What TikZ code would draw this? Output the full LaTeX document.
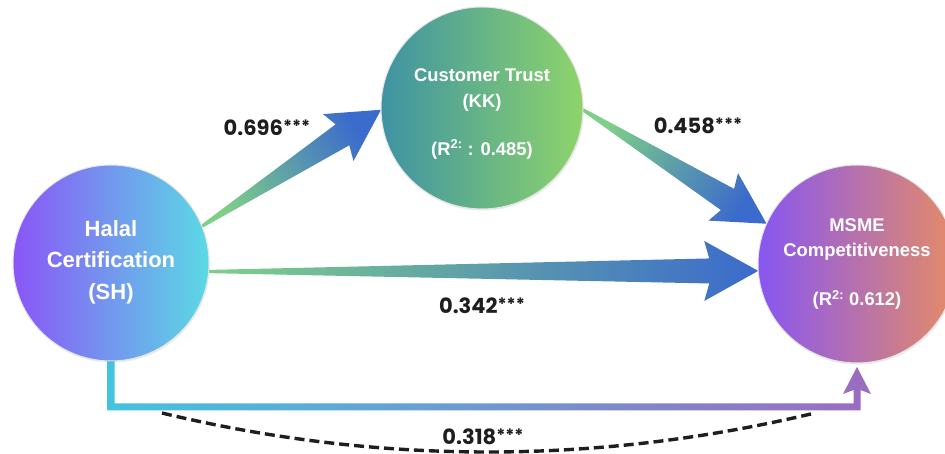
\documentclass[tikz,border=0pt]{standalone}
\usepackage{fontspec}
\setsansfont{Liberation Sans}
\newfontfamily\valuefont{Poppins}
\usetikzlibrary{calc,shadows}

\pgfdeclarelayer{paper}
\pgfdeclarelayer{links}
\pgfsetlayers{paper,links,main}

% construct colours
\definecolor{shA}{HTML}{8A55F7}
\definecolor{shB}{HTML}{5BDAE5}
\definecolor{kkA}{HTML}{3E93A3}
\definecolor{kkB}{HTML}{8ED46B}
\definecolor{msA}{HTML}{8856F2}
\definecolor{msB}{HTML}{BE6EAA}
\definecolor{msC}{HTML}{E48C66}
% path colours
\definecolor{pathTail}{HTML}{7ECF88}
\definecolor{pathHead}{HTML}{3B6BCC}
\definecolor{brA}{HTML}{43C3DE}
\definecolor{brB}{HTML}{9B6CC0}
\definecolor{ink}{HTML}{1E1E1E}

\tikzset{
  construct/.style={circle, inner sep=0pt, outer sep=0pt, draw=black!10, line width=1pt,
    drop shadow={opacity=0.15, shadow xshift=0.8pt, shadow yshift=-1.6pt}},
  nametext/.style={text=white, align=center, inner sep=0pt},
  valuetext/.style={text=ink, inner sep=0pt, font=\valuefont\bfseries\fontsize{21}{21}\selectfont},
  dashlink/.style={ink, line width=3.4pt, dash pattern=on 10pt off 5pt},
}

\newcommand\stars{{\fontsize{17}{17}\selectfont\raisebox{3pt}{***}}}

% tapered gradient arrow from #1 to #2; #3 tail colour, #4 head colour,
% #5 head length, #6 head half-width
\newcommand\taperedlink[6]{%
  \pgfmathanglebetweenpoints{\pgfpointanchor{#1}{center}}{\pgfpointanchor{#2}{center}}%
  \let\tlAngle\pgfmathresult
  \pgfpointdiff{\pgfpointanchor{#1}{center}}{\pgfpointanchor{#2}{center}}%
  \pgfgetlastxy{\tlDx}{\tlDy}%
  \pgfmathsetmacro\tlLen{veclen(\tlDx,\tlDy)}%
  \pgfmathsetmacro\tlShade{\tlAngle+90}%
  \begin{scope}[shift={(#1)}, rotate=\tlAngle]
    \shade[left color=#3, right color=#4, shading angle=\tlShade]
      (0,1.6) -- (\tlLen-#5+5,12.5) -- (\tlLen-#5,#6) -- (\tlLen,0)
      -- (\tlLen-#5,-#6) -- (\tlLen-#5+5,-12.5) -- (0,-1.6) -- cycle;
  \end{scope}}

\begin{document}
\begin{tikzpicture}[x=1pt, y=1pt]
  \begin{pgfonlayer}{paper}
    \fill[white] (0,0) rectangle (945,454);
  \end{pgfonlayer}
  \useasboundingbox (0,0) rectangle (945,454);

  % constructs
  \node[construct, minimum size=196pt, left color=shA, right color=shB] (sh) at (111,191) {};
  \node[construct, minimum size=202pt, left color=kkA, right color=kkB] (kk) at (482,346) {};
  \node[construct, minimum size=198pt, left color=msA, middle color=msB, right color=msC] (msme) at (857,190) {};

  \node[nametext, font=\sffamily\bfseries\fontsize{22}{31.5}\selectfont] (shtext) at ($(sh)+(0,1)$)
    {Halal\\Certification\\(SH)};
  \node[nametext, font=\sffamily\bfseries\fontsize{18.4}{26}\selectfont] (kktext) at ($(kk)+(0,-5.5)$)
    {Customer Trust\\(KK)\\[22pt](R\textsuperscript{2:} : 0.485)};
  \node[nametext, font=\sffamily\bfseries\fontsize{18.4}{25}\selectfont] (mstext) at ($(msme)+(0,0)$)
    {MSME\\Competitiveness\\[24pt](R\textsuperscript{2:} 0.612)};

  % path end points
  \coordinate (a1s) at (sh.22);
  \coordinate (a1e) at (kk.181);
  \coordinate (a2s) at (kk.-1);
  \coordinate (a2e) at (msme.156);
  \coordinate (a3s) at (sh.-5);
  \coordinate (a3e) at (msme.184);
  \coordinate (elbowL) at ($(sh.south)+(0,-46)$);
  \coordinate (elbowR) at (msme.south |- elbowL);
  \coordinate (dL) at (162,41);
  \coordinate (dR) at (815,41);

  \begin{pgfonlayer}{links}
    \taperedlink{a1s}{a1e}{pathTail}{pathHead}{51}{28}
    \taperedlink{a2s}{a2e}{pathTail}{pathHead}{51}{28}
    \taperedlink{a3s}{a3e}{pathTail}{pathHead}{54}{30}

    % indirect route below the constructs
    \shade[left color=brA, right color=brB]
      ($(sh.south)+(-3.5,8)$) -- ($(elbowL)+(-3.5,-3.5)$) -- ($(elbowR)+(3.5,-3.5)$)
      -- ($(msme.south)+(3.5,-27)$) -- ($(msme.south)+(14,-31)$) -- ($(msme.south)+(0,-4)$)
      -- ($(msme.south)+(-14,-31)$) -- ($(msme.south)+(-3.5,-27)$)
      -- ($(elbowR)+(-3.5,3.5)$) -- ($(elbowL)+(3.5,3.5)$) -- ($(sh.south)+(3.5,8)$) -- cycle;

    \draw[dashlink] (dL) .. controls (378,-11) and (597,-11) .. (dR);
  \end{pgfonlayer}

  % path coefficients
  \node[valuetext] (v1) at (267,326) {0.696\stars};
  \node[valuetext] (v2) at (698,328) {0.458\stars};
  \node[valuetext] (v3) at (482,148) {0.342\stars};
  \node[valuetext] (v4) at (483,17) {0.318\stars};
\end{tikzpicture}
\end{document}
